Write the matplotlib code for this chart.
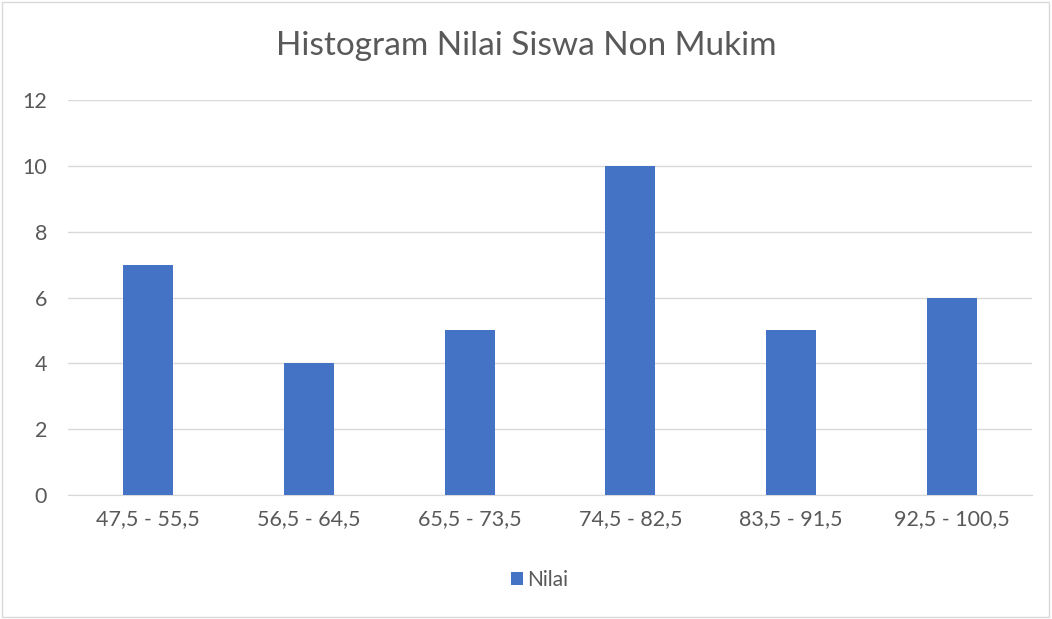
import matplotlib
matplotlib.use("Agg")
import matplotlib.pyplot as plt
from matplotlib.patches import Rectangle

categories = ["47,5 - 55,5", "56,5 - 64,5", "65,5 - 73,5", "74,5 - 82,5", "83,5 - 91,5", "92,5 - 100,5"]
nilai = [7, 4, 5, 10, 5, 6]
y_ticks = [0, 2, 4, 6, 8, 10, 12]

plt.rcParams['font.family'] = ['Lato', 'DejaVu Sans']

fig = plt.figure(figsize=(10.52, 6.19), dpi=100)
fig.patches.append(Rectangle((0.002, 0.003), 0.995, 0.994, transform=fig.transFigure,
                             fill=False, edgecolor='#d9d9d9', linewidth=1))
ax = fig.add_axes([0.0646, 0.2003, 0.9164, 0.6381])

x = range(len(categories))
ax.bar(x, nilai, width=0.31, color='#4472C4', label='Nilai', zorder=3)
ax.set_xlim(-0.5, len(categories) - 0.5)
ax.set_ylim(0, 12)
ax.set_yticks(y_ticks)
ax.set_xticks(list(x))
ax.set_xticklabels(categories)
ax.grid(axis='y', color='#d9d9d9', linewidth=1, zorder=0)
for s in ['top', 'right', 'left']:
    ax.spines[s].set_visible(False)
ax.spines['bottom'].set_color('#d9d9d9')
ax.tick_params(axis='both', length=0, labelsize=15.5, colors='#595959', pad=10)
ax.tick_params(axis='y', pad=15)

fig.text(0.5, 0.925, "Histogram Nilai Siswa Non Mukim", ha='center', va='center',
         fontsize=24, color='#595959')
fig.legend(loc='center', bbox_to_anchor=(0.513, 0.063), frameon=False, fontsize=15,
           handlelength=0.6, handleheight=0.6, handletextpad=0.2, labelcolor='#595959')

fig.savefig("out.png", dpi=100)
